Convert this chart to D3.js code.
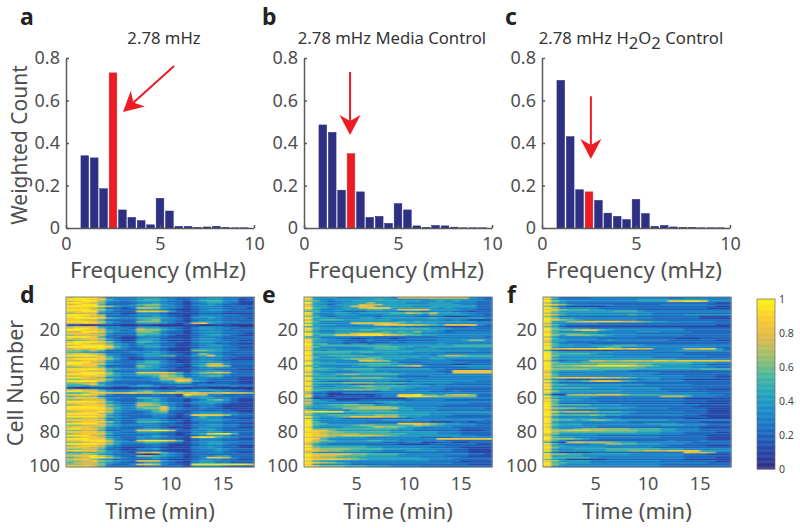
<!DOCTYPE html>
<html>
<head>
<meta charset="utf-8">
<script src="https://cdn.jsdelivr.net/npm/d3@7"></script>
<style>
  html, body { margin: 0; padding: 0; background: #fff; }
  text { font-family: "Noto Sans", sans-serif; }
</style>
</head>
<body>
<svg id="fig" width="800" height="528"></svg>
<script>
// histogram bins (mHz), 0.5 wide
var freqBins = [1, 1.5, 2, 2.5, 3, 3.5, 4, 4.5, 5, 5.5, 6, 6.5, 7, 7.5, 8, 8.5, 9, 9.5];
var countsA = [0.34, 0.33, 0.185, 0.73, 0.085, 0.05, 0.035, 0.015, 0.14, 0.08, 0.008, 0.008, 0.002, 0.005, 0.008, 0.002, 0.001, 0.001];
var countsB = [0.485, 0.45, 0.178, 0.35, 0.17, 0.05, 0.055, 0.022, 0.115, 0.085, 0.01, 0.003, 0.012, 0.01, 0.004, 0.001, 0.001, 0.001];
var countsC = [0.695, 0.43, 0.18, 0.17, 0.13, 0.07, 0.055, 0.04, 0.135, 0.068, 0.008, 0.012, 0.005, 0.002, 0.002, 0.001, 0.001, 0.001];
var highlightBin = 2.5;

var freqTicks = [0, 5, 10];
var countTicks = [0, 0.2, 0.4, 0.6, 0.8];
var timeTicks = [5, 10, 15];
var cellTicks = [20, 40, 60, 80, 100];
var colorTicks = [0, 0.2, 0.4, 0.6, 0.8, 1];

// arrows: [tail x, tail y, tip x, tip y] in data units of each histogram
var arrowA = [5.75, 0.762, 3.03, 0.546];
var arrowB = [2.45, 0.734, 2.45, 0.438];
var arrowC = [2.6, 0.62, 2.6, 0.325];

// parula-like colormap stops
var parula = ["#332c85", "#2447a8", "#1a6cc0", "#1a88c8", "#22a3bc", "#4db89a", "#a0bd68", "#e0b94a", "#fbcc2c", "#f9f50f"];

// heatmaps: one string per cell (row), one digit per 0.75 min, digit/9 = normalised value
var heatD = [
"899973333444332233443322","999885333455432234443312","789963323444322134553311","998763222334332123443211",
"789952223566432133432211","999986433455332123332222","888752212776432123332221","999874322444321123443222",
"889953222888742123332222","677732211333211112221111","999863323444322123333322","998772222334321134432222",
"899985433555432133432221","887752222456332123332222","999874322666432134443322","778863222444321278432222",
"110011100110000110011000","677743322333222123332211","899863332655432134433222","998874323766432123332222",
"779985433665322134443322","888763222555322123332221","677773222544321123443211","999852211333211123332222",
"878874211344222134432222","566763211443211123332211","899986322554322134433222","998775432433221123322211",
"789997432344221123443222","999998532344321123332211","788896432233211134443322","665752222233211166543222",
"554432223334321123332222","788763322344322136432222","999974322344552245843222","677785321233221123332211",
"899986421122211123332111","778874322344321134432222","999763222455321133443222","998874322444322134773222",
"788852222654322145886222","667763322544221123443222","999985433443321123322211","888774222333211133443222",
"789996433888875246787322","999986433555654234443222","778885433445765234553222","998763322234666433332211",
"667786433333678833222211","999974222223448743222211","677743222222345522122211","556853332332222223333222",
"443443223443223322222322","100111001111011011000000","676642222332222334433221","998864334564335443343322",
"556887778776787787778776","889863222223221977332222","566632222222221544322222","788863322554322234433211",
"667773222345322123564211","999985322444322134443211","888874322665432233432111","678886433776432123321111",
"999985433655732123321111","999997533566843223221111","888886433445732222222111","678897432235622133332211",
"999975322234421234443322","888884322223321288886322","999985432223321235442222","667763322333211134332211",
"888873322444322133443222","678886422555432123332222","999974322333221123332211","667785433333222133443322",
"788763322233211123332211","998863322344322134432222","667752233889972233432222","888874322444321133443322",
"678885333333221245899522","999763222234321123443222","678874322434322189854322","999885322333221123332211",
"889997432899985123332222","667886433455432133443322","999986422233211123443222","678874322223211123332211",
"888763211122111133432211","667752211334211123343222","898864322222111133343222","445554321778532122332211",
"667643222101432122222222","788975322665432123344222","567997532334322123887322","788643222223211123332211",
"667865432777432134433222","577754322244321134433222","667763223887322199999998","888752222233222144443222"
];
var heatE = [
"944433344443888888888432","843344444544333344444332","653233444444444334343322","944334446444433344433322",
"743244477744444444443322","844334787444443344444422","954334478884444443433322","743344445544888844443322",
"553332223333233233322122","943344344445576574443322","843344433344444354444332","653233333233332222111222",
"944433344344444454444443","745554444443333333232111","953333444444545444444433","643333888887544443333333",
"944433344788887654888832","543333333332322222111222","954444444555555544433322","843344455444444443222222",
"643344444454546443233333","954455788865554333333333","945588899987655443333333","543333333222222223333332",
"753322112221233333333333","944332223222222223334663","843332212223233333333333","955332332333333334333333",
"945555555554444444455555","853333344555443344444444","944433334555434443333333","743444444444444444444433",
"955555455444443333222222","944444333344333333333333","844555554444444435776555","953344445544444344444444",
"944445666544433344333333","743333388763333333322222","954433334444222333333222","944444455554433222211222",
"653333445555678433344444","944433333322222222222333","955445555444444433222222","844433444333333332288888",
"743333344443333333288888","954456655555433333333333","644433333333222233333333","955555666654333333333333",
"944444444444433333333333","743222333332223333333322","955556666555544444433333","943333223333233223222222",
"743344566555544433333333","944444445554443333222222","955556666554433333222222","743222222233333322232222",
"622113333333333333333333","833111111233889554677622","922122221233999876666622","511111111111133333333333",
"743311122222223333222222","644333333444433333333333","733333322234333333333222","644556655333333333222222",
"544455566665433332222222","433446677777443333333332","644333555554443332222222","999995555555444444444444",
"744333344444444433333333","644555555666444433322222","954456888877544333222222","643332222222223333333333",
"943333333344443333333332","953333332222222211122122","955333333333888765443322","954444566555557654333322",
"843334445766544333322222","955555555555443333332222","988644444443332222221112","887665555554444443332222",
"987666655555544443332222","988778888765444444443322","876544443333333222233333","985333333333333338888888",
"976544445544333333222222","864433333322233112211222","743222222222111122222211","954444443333333333222222",
"865555554433333322221111","976666555544444333322111","887665544433344443322111","743333333222222222222111",
"988888665555433333333221","987765554444333333222111","876655544444444333332222","988887654444444433322222",
"854433333333333322221111","987654333333333333322222","843333222222222222222111","986665554443333222222222"
];
var heatF = [
"952222333333333322333333","843333333333444444444333","964333333333444488998333","743222222222222222222211",
"986433333222222333333222","642111112222222222222211","963333322222222222222111","886555443333222222222222",
"964444444555433333333333","754333333333332222222222","975444444445443333444444","642222222222222222221111",
"964433333333332222221111","986543333333222222222222","944678888877654433333322","743333322222222222222222",
"853222222222222222222211","642111111111111111111111","964444333333333333222222","955578854333333333222222",
"853334433333444333322222","955554433333222222222222","964666554333333333222222","743333333333222222222222",
"953333322222222221112222","844333334333333322222211","743222222222222222222222","953333222222222222222222",
"854433444555433333333333","943333345533333333333322","977888899878773333778842","521111111222223334444443",
"954444444333332222222222","955555433333333333222222","964444444333333333333222","943333333333332222222222",
"954444444444444443333333","732334776677778878888888","964445555555555555544433","955555566666554444433222",
"966678899998765444444333","955555555555544444433322","966666555555444444445555","854444443332222222222222",
"743333333333333222222222","953333333333332222222222","853333333333333333222211","978888887765444333333322",
"632111222222233222111111","954445788754333333222222","742222222222222222222222","955444444444433333322222",
"843333333322222222222222","955555444444444333322222","743333333333333222222111","964444444433333322222222",
"843333333333333333333222","511677788865555444433332","954444433333333777533322","743333222222222222111111",
"964443333333333333222222","853333322222222222222111","952222222222222222111111","965555444433333333332222",
"943333333333222222211111","976655544443333322222111","843222222222222222222111","986777655544333333222111",
"953333333332222222222111","965555654433333333221111","843333332222222222222111","954444433322222222111111",
"965545665444444433333333","943333333332222222221111","854443333333344443333222","954443333333333444333222",
"843333322222222222221111","954456666665555443332222","977888776666555443332222","965555555555444333222211",
"864444444444444333222222","743333322222222222222111","954433333333333222222111","966654322222222222222111",
"853222222222222232223222","521787776544333333322222","953333446655444333222222","844333333333333322222111",
"964444443333332222222222","843344445555555444333333","954444445556677788884444","521111222222222222877622",
"966554444443333333222111","844443333333333333222222","955555433333333333222211","643111112222222222111111",
"864444333333333222222211","955444333333333333333222","964333333333333222222222","843333333333333222222222"
];

var INK = "#4f4f4f";
var svg = d3.select("#fig");
var color = d3.scaleLinear().domain(parula.map(function(d, i) { return i / (parula.length - 1); })).range(parula);

// horizontal smoothing so the 0.75 min columns read like streaks
var blur = svg.append("defs").append("filter").attr("id", "soft")
  .attr("x", "0").attr("y", "0").attr("width", "1").attr("height", "1");
blur.append("feGaussianBlur").attr("stdDeviation", "1.2 0.12").attr("edgeMode", "duplicate");

function styleAxis(g) {
  g.selectAll("path, line").attr("stroke", "#5a5a5a").attr("stroke-width", 1.5);
  g.selectAll("text").attr("fill", INK).attr("font-size", 18).attr("font-family", '"Noto Sans", sans-serif');
}

function histogram(left, counts, arrow, letter, letterX) {
  var x = d3.scaleLinear().domain([0, 10]).range([left, left + 188]);
  var y = d3.scaleLinear().domain([0, 0.8]).range([228, 58]);
  var barW = x(0.41) - x(0);

  svg.append("g").selectAll("rect").data(counts).enter().append("rect")
    .attr("x", function(d, i) { return x(freqBins[i]) - barW / 2; })
    .attr("y", function(d) { return y(d); })
    .attr("width", barW)
    .attr("height", function(d) { return y(0) - y(d); })
    .attr("fill", function(d, i) { return freqBins[i] === highlightBin ? "#ed1c24" : "#2e3083"; })
    .attr("stroke", function(d, i) { return freqBins[i] === highlightBin ? "#b0343a" : "#2e3083"; })
    .attr("stroke-width", 0.5);

  var gx = svg.append("g").attr("transform", "translate(0,228)")
    .call(d3.axisBottom(x).tickValues(freqTicks).tickFormat(d3.format("d")).tickSizeInner(-3).tickSizeOuter(0));
  gx.selectAll("text").attr("y", 9);
  styleAxis(gx);
  var gy = svg.append("g").attr("transform", "translate(" + left + ",0)")
    .call(d3.axisLeft(y).tickValues(countTicks).tickFormat(function(d) { return d === 0 ? "0" : d3.format(".1f")(d); }).tickSizeInner(-3).tickSizeOuter(0));
  gy.selectAll("text").attr("x", -6);
  styleAxis(gy);

  svg.append("text").attr("x", left + 92).attr("y", 278).attr("text-anchor", "middle")
    .attr("fill", INK).attr("font-size", 22.3).text("Frequency (mHz)");
  panelLetter(letter, letterX, 25);
  drawArrow(x, y, arrow);
}

function drawArrow(x, y, a) {
  var x0 = x(a[0]), y0 = y(a[1]), x1 = x(a[2]), y1 = y(a[3]);
  var ang = Math.atan2(y1 - y0, x1 - x0);
  function pt(along, across) {
    return [x1 + along * Math.cos(ang) - across * Math.sin(ang), y1 + along * Math.sin(ang) + across * Math.cos(ang)];
  }
  svg.append("line").attr("x1", x0).attr("y1", y0).attr("x2", pt(-12, 0)[0]).attr("y2", pt(-12, 0)[1])
    .attr("stroke", "#ed1c24").attr("stroke-width", 2);
  svg.append("path").attr("fill", "#ed1c24")
    .attr("d", "M" + [pt(0, 0), pt(-20, 10.5), pt(-14, 0), pt(-20, -10.5)].join("L") + "Z");
}

function panelLetter(t, px, py) {
  svg.append("text").attr("x", px).attr("y", py).attr("fill", "#222").attr("font-size", 23)
    .attr("font-weight", 700).attr("font-family", '"DejaVu Sans", sans-serif').text(t);
}

function heatmap(left, rows, letter, letterX) {
  var x = d3.scaleLinear().domain([0, 18]).range([left, left + 188]);
  var y = d3.scaleLinear().domain([0.5, 100.5]).range([297, 467]);
  var cells = svg.append("g").attr("filter", "url(#soft)");
  rows.forEach(function(row, r) {
    row.split("").forEach(function(v, c) {
      cells.append("rect")
        .attr("x", x(c * 0.75)).attr("y", y(r + 0.5))
        .attr("width", x(0.75) - x(0) + 0.5).attr("height", y(1.5) - y(0.5) + 0.3)
        .attr("fill", color(+v / 9.4));
    });
  });
  svg.append("rect").attr("x", left).attr("y", 297).attr("width", 188).attr("height", 170)
    .attr("fill", "none").attr("stroke", "#5f6670").attr("stroke-width", 0.8);

  var gx = svg.append("g").attr("transform", "translate(0,467)")
    .call(d3.axisBottom(x).tickValues(timeTicks).tickSize(0));
  gx.select("path").remove();
  gx.selectAll("text").attr("y", 10);
  styleAxis(gx);
  var gy = svg.append("g").attr("transform", "translate(" + left + ",0)")
    .call(d3.axisLeft(y).tickValues(cellTicks).tickSize(0));
  gy.select("path").remove();
  gy.selectAll("text").attr("x", -6);
  styleAxis(gy);

  svg.append("text").attr("x", left + 94).attr("y", 519).attr("text-anchor", "middle")
    .attr("fill", INK).attr("font-size", 22).text("Time (min)");
  panelLetter(letter, letterX, 303);
}

histogram(66, countsA, arrowA, "a", 20);
histogram(304, countsB, arrowB, "b", 262);
histogram(542, countsC, arrowC, "c", 505);
heatmap(66, heatD, "d", 20);
heatmap(304, heatE, "e", 262);
heatmap(543, heatF, "f", 507);

// titles
function title(cx) {
  return svg.append("text").attr("x", cx).attr("y", 44).attr("text-anchor", "middle")
    .attr("fill", "#333").attr("font-size", 16.7);
}
title(164).text("2.78 mHz");
title(392).text("2.78 mHz Media Control");
var tc = title(631);
tc.append("tspan").text("2.78 mHz H");
tc.append("tspan").attr("dy", 5).text("2");
tc.append("tspan").attr("dy", -5).text("O");
tc.append("tspan").attr("dy", 5).text("2");
tc.append("tspan").attr("dy", -5).text(" Control");

// y labels
svg.append("text").attr("transform", "translate(27,145) rotate(-90)").attr("text-anchor", "middle")
  .attr("fill", INK).attr("font-size", 21).text("Weighted Count");
svg.append("text").attr("transform", "translate(23,383) rotate(-90)").attr("text-anchor", "middle")
  .attr("fill", INK).attr("font-size", 21.5).text("Cell Number");

// colour bar
var cbY = d3.scaleLinear().domain([0, 1]).range([469, 299]);
svg.append("g").selectAll("rect").data(d3.range(0, 1, 0.005)).enter().append("rect")
  .attr("x", 757).attr("width", 18)
  .attr("y", function(d) { return cbY(d + 0.005); })
  .attr("height", cbY(0) - cbY(0.005) + 0.4)
  .attr("fill", function(d) { return color(d); });
svg.append("rect").attr("x", 757).attr("y", 299).attr("width", 18).attr("height", 170)
  .attr("fill", "none").attr("stroke", "#6b6b6b").attr("stroke-width", 0.7);
var cbAxis = svg.append("g").attr("transform", "translate(775,0)")
  .call(d3.axisRight(cbY).tickValues(colorTicks).tickFormat(function(d) { return d === 0 || d === 1 ? d : d3.format(".1f")(d); }).tickSize(0));
cbAxis.select("path").remove();
cbAxis.selectAll("text").attr("x", 4).attr("fill", "#444").attr("font-size", 10.5);
</script>
</body>
</html>
